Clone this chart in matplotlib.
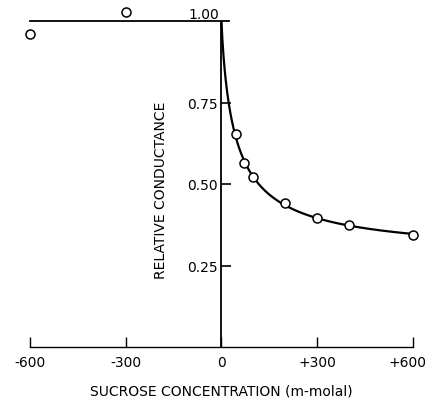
import numpy as np
import matplotlib
matplotlib.use("Agg")
import matplotlib.pyplot as plt
from matplotlib.transforms import ScaledTranslation

# values
neg_conc = [-600, -300]
neg_rel = [0.96, 1.027]
pos_conc = [44, 70, 98, 200, 300, 400, 600]
pos_rel = [0.652, 0.564, 0.521, 0.442, 0.396, 0.373, 0.344]
x_ticks = [-600, -300, 0, 300, 600]
x_tick_labels = ["-600", "-300", "0", "+300", "+600"]
y_ticks = [0.25, 0.50, 0.75]
y_tick_labels = ["0.25", "0.50", "0.75"]

plt.rcParams["font.family"] = ["DejaVu Sans"]

# smooth curve: G = a + (1-a)/(1+(c/K)^n), fitted to the positive side, G(0)=1
c = np.array(pos_conc, dtype=float)
g = np.array(pos_rel)
best = None
for K in np.linspace(5, 200, 200):
    for n in np.linspace(0.5, 2.0, 61):
        h = 1.0 / (1.0 + (c / K) ** n)
        u = 1.0 - h
        r = g - h
        a = np.sum(u * r) / np.sum(u * u)
        err = np.sum((r - a * u) ** 2)
        if best is None or err < best[0]:
            best = (err, K, n, a)
_, K, n, a = best
xc = np.linspace(0, 600, 500)
yc = a + (1 - a) / (1 + (xc / K) ** n)

fig = plt.figure(figsize=(4.31, 4.06), dpi=100)
ax = fig.add_axes([30 / 431, 58 / 406, 383 / 431, 326 / 406])
ax.set_xlim(-600, 600)
ax.set_ylim(0, 1.0)

ax.plot(xc, yc, color="black", lw=1.6, zorder=2)
ax.plot(neg_conc + pos_conc, neg_rel + pos_rel, "o", ms=6.5, mfc="white",
        mec="black", mew=1.1, clip_on=False, zorder=3)

# axes drawn like the original: y axis at zero, top line at 1.00
for s in ["top", "right"]:
    ax.spines[s].set_visible(False)
ax.spines["left"].set_position(("data", 0))
ax.spines["bottom"].set_position(("data", 0))
ax.spines["left"].set_linewidth(1.3)
ax.spines["bottom"].set_linewidth(1.0)
ax.plot([-600, 25], [1.0, 1.0], color="black", lw=1.3, clip_on=False)

ax.set_xticks(x_ticks)
ax.set_xticklabels(x_tick_labels)
ax.set_yticks(y_ticks)
ax.set_yticklabels(y_tick_labels)
ax.tick_params(axis="x", direction="in", length=7, width=1.0, labelsize=10, pad=6)
ax.tick_params(axis="y", direction="in", length=7, width=1.2, labelsize=10, pad=3)
last = ax.get_xticklabels()[-1]
last.set_transform(last.get_transform() + ScaledTranslation(-5 / 100, 0, fig.dpi_scale_trans))
ax.text(-8, 1.022, "1.00", ha="right", va="center", fontsize=10)

ax.text(-188, 0.485, "RELATIVE CONDUCTANCE", rotation=90, ha="center",
        va="center", fontsize=10)
ax.set_xlabel("SUCROSE CONCENTRATION (m-molal)", fontsize=10, labelpad=10)

fig.savefig("out.png", dpi=100)
